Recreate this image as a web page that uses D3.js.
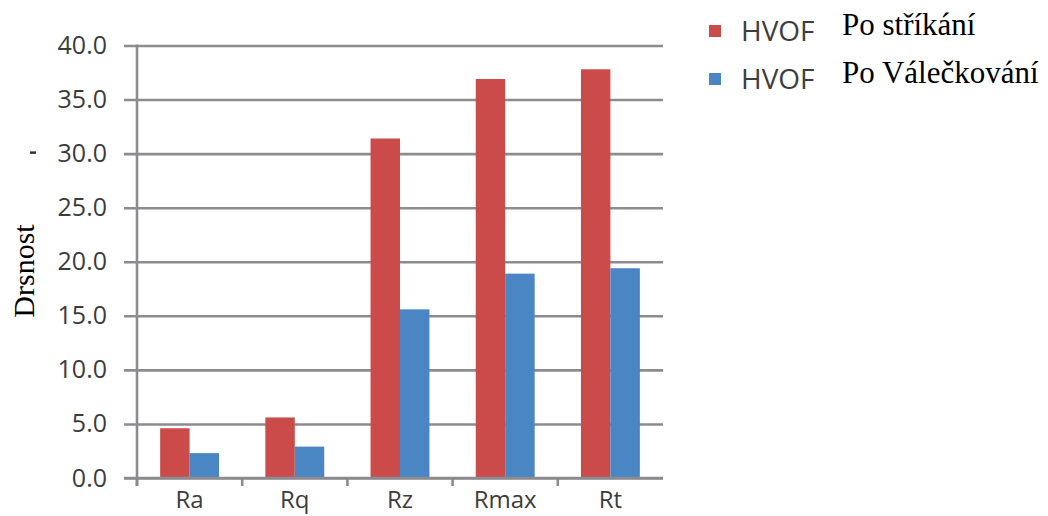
<!DOCTYPE html>
<html>
<head>
<meta charset="utf-8">
<script src="https://cdn.jsdelivr.net/npm/d3@7"></script>
<style>
  body { margin: 0; background: #fff; }
  svg { display: block; }
</style>
</head>
<body>
<div id="chart"></div>
<script>
// Data
const categories = ['Ra', 'Rq', 'Rz', 'Rmax', 'Rt'];
const seriesNames = ['Po stříkání', 'Po Válečkování'];
const afterSpraying = [4.6, 5.6, 31.4, 36.9, 37.8];
const afterRolling = [2.3, 2.9, 15.6, 18.9, 19.4];
const yTicks = [0, 5, 10, 15, 20, 25, 30, 35, 40];
const colors = ['#cb4b4a', '#4a85c4'];

const width = 1048, height = 516;
const margin = { left: 137, right: 385, top: 45.5, bottom: 38 };
const gridColor = '#8b8b90';
const labelFont = '"Open Sans", sans-serif';
const serifFont = '"Liberation Serif", "Times New Roman", serif';

const svg = d3.select('#chart').append('svg')
    .attr('width', width)
    .attr('height', height);

const x = d3.scaleBand()
    .domain(categories)
    .range([margin.left, width - margin.right])
    .paddingInner(0.44)
    .paddingOuter(0.22);

const xSub = d3.scaleBand()
    .domain(seriesNames)
    .range([0, x.bandwidth()]);

const y = d3.scaleLinear()
    .domain([0, 40])
    .range([height - margin.bottom, margin.top]);

// Gridlines + y tick labels
const yAxis = d3.axisLeft(y)
    .tickValues(yTicks)
    .tickFormat(d3.format('.1f'))
    .tickSize(-(width - margin.right - margin.left + 13))
    .tickPadding(17);

const gy = svg.append('g')
    .attr('transform', `translate(${margin.left - 13},0)`)
    .call(yAxis);
gy.select('.domain').remove();
gy.selectAll('.tick line')
    .attr('stroke', gridColor)
    .attr('stroke-width', 2.6)
    .attr('x1', 0);
gy.selectAll('.tick text')
    .attr('fill', '#3c3c3c')
    .style('font-family', labelFont)
    .style('font-size', '25px');

// Bars
const rows = categories.map((c, i) => ({ cat: c, values: [afterSpraying[i], afterRolling[i]] }));

svg.append('g').selectAll('g')
    .data(rows)
    .join('g')
    .attr('transform', d => `translate(${x(d.cat)},0)`)
    .selectAll('rect')
    .data(d => d.values.map((v, k) => ({ name: seriesNames[k], value: v, k })))
    .join('rect')
    .attr('x', d => xSub(d.name))
    .attr('width', xSub.bandwidth())
    .attr('y', d => y(d.value))
    .attr('height', d => y(0) - y(d.value))
    .attr('fill', d => colors[d.k]);

// Category axis
const xAxisG = svg.append('g');
xAxisG.append('line')
    .attr('x1', margin.left - 13).attr('x2', width - margin.right)
    .attr('y1', y(0)).attr('y2', y(0))
    .attr('stroke', gridColor).attr('stroke-width', 2.6);
const catWidth = (width - margin.right - margin.left) / categories.length;
xAxisG.selectAll('line.tick')
    .data(d3.range(categories.length))
    .join('line')
    .attr('class', 'tick')
    .attr('x1', i => margin.left + i * catWidth)
    .attr('x2', i => margin.left + i * catWidth)
    .attr('y1', y(0)).attr('y2', y(0) + 8)
    .attr('stroke', gridColor).attr('stroke-width', 2.6);
xAxisG.selectAll('text')
    .data(categories)
    .join('text')
    .attr('x', d => x(d) + x.bandwidth() / 2)
    .attr('y', 508)
    .attr('text-anchor', 'middle')
    .attr('fill', '#3c3c3c')
    .style('font-family', labelFont)
    .style('font-size', '24px')
    .text(d => d);

// Y axis line
svg.append('line')
    .attr('x1', margin.left).attr('x2', margin.left)
    .attr('y1', y(40) - 1).attr('y2', y(0) + 8)
    .attr('stroke', gridColor).attr('stroke-width', 2.6);

// Y axis title
svg.append('text')
    .attr('transform', `translate(34,${(222 + 320) / 2}) rotate(-90)`)
    .attr('text-anchor', 'middle')
    .attr('fill', '#000')
    .style('font-family', serifFont)
    .style('font-size', '30px')
    .text('Drsnost');

// small stray dash left of the 30.0 label
svg.append('line')
    .attr('x1', 30).attr('x2', 36)
    .attr('y1', y(30) - 1).attr('y2', y(30) - 1)
    .attr('stroke', '#333').attr('stroke-width', 2.5);

// Legend
const legendRows = [31, 79];
const legend = svg.append('g').selectAll('g')
    .data(seriesNames)
    .join('g')
    .attr('transform', (d, i) => `translate(0,${legendRows[i]})`);
legend.append('rect')
    .attr('x', 709).attr('y', -6)
    .attr('width', 12).attr('height', 12)
    .attr('fill', (d, i) => colors[i]);
legend.append('text')
    .attr('x', 741).attr('y', 10)
    .attr('fill', '#3e3e3e')
    .style('font-family', labelFont)
    .style('font-size', '28px')
    .text('HVOF');
legend.append('text')
    .attr('x', 842).attr('y', 4)
    .attr('fill', '#000')
    .style('font-family', serifFont)
    .style('font-size', '31px')
    .text(d => d);
</script>
</body>
</html>
